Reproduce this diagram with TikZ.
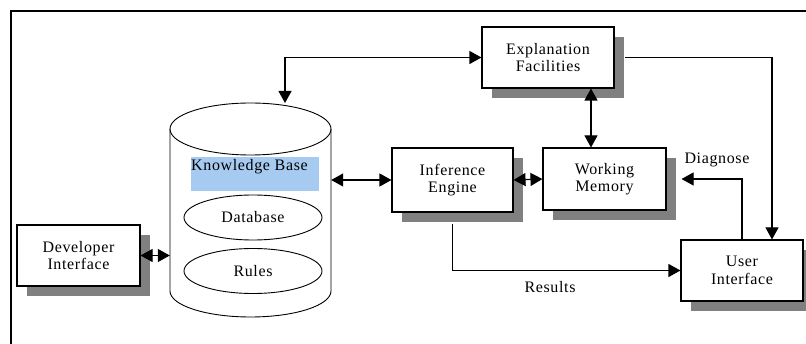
\documentclass[tikz,border=0pt]{standalone}
\usepackage{fontspec}
\setmainfont[LetterSpace=4]{Liberation Serif}
\usetikzlibrary{shapes.geometric,shadows,arrows.meta}
\definecolor{shadowgray}{RGB}{128,128,128}
\definecolor{kbblue}{RGB}{166,202,240}
\tikzset{
  box/.style={draw, line width=1.1pt, fill=white, align=center,
    font=\fontsize{16}{17.5}\selectfont,
    drop shadow={shadow xshift=10pt, shadow yshift=-10pt, fill=shadowgray, opacity=1}},
  oval/.style={ellipse, draw, line width=0.9pt, fill=white, minimum width=138pt, minimum height=45pt, inner sep=0pt,
    font=\fontsize{16}{17.5}\selectfont},
  lbl/.style={font=\fontsize{16}{17.5}\selectfont},
  conn/.style={line width=1.1pt, arrows={-Triangle[length=12pt,width=13pt]}},
  dconn/.style={line width=1.1pt, arrows={Triangle[length=12pt,width=13pt]-Triangle[length=12pt,width=13pt]}},
  frameline/.style={line width=1.4pt}
}
\begin{document}
\begin{tikzpicture}[x=1pt,y=-1pt]
\useasboundingbox (0,0) rectangle (806,344);
\fill[white] (0,0) rectangle (806,344);
% outer frame (cut off at right and bottom)
\draw[frameline] (11,350) -- (11,11) -- (812,11);

% boxes
\node[box, minimum width=132pt, minimum height=61pt] (ef) at (548,57.5) {Explanation\\Facilities};
\node[box, minimum width=121pt, minimum height=64pt] (ie) at (452.5,180) {Inference\\Engine};
\node[box, minimum width=123pt, minimum height=62pt] (wm) at (604.5,179) {Working\\Memory};
\node[box, minimum width=123pt, minimum height=61pt] (di) at (78.5,255.5) {Developer\\Interface};
\node[box, minimum width=122pt, minimum height=61pt] (ui) at (742,270.5) {User\\Interface};

% knowledge base cylinder
\node[minimum width=161pt, minimum height=214pt, inner sep=0pt] (kb) at (250.5,210) {};
\draw[line width=0.9pt, fill=white] (170,129) -- (170,291)
  arc[start angle=180, end angle=360, x radius=80.5pt, y radius=26pt] -- (331,129);
\draw[line width=0.9pt] (250.5,129) ellipse[x radius=80.5pt, y radius=26pt];
\fill[kbblue] (191,157) rectangle (319,191);
\node[lbl, anchor=west, inner sep=0pt] (kbl) at (191,167) {Knowledge Base};
\node[oval] (db) at (253,217.5) {Database};
\node[oval] (ru) at (253,271) {Rules};

% connectors
\coordinate (kbtop) at (285,103);
\draw[dconn] (kbtop) |- (ef.west);
\coordinate (efwm) at (591,0);
\draw[dconn] (ef.south -| efwm) -- (wm.north -| efwm);
\draw[conn] ([xshift=10pt]ef.east) -| ([xshift=30pt]ui.north);
\draw[conn] (ui.north) |- ([xshift=15pt]wm.east);
\draw[conn] ([yshift=-11pt]ie.south) |- (ui.west);
\draw[dconn] (kb.east |- ie.west) -- (ie.west);
\draw[dconn] (ie.east) -- (wm.west);
\draw[dconn] (di.east) -- (kb.west |- di.east);

% labels
\node[lbl] (diag) at (717,160) {Diagnose};
\node[lbl] (res) at (550,287) {Results};
\end{tikzpicture}
\end{document}
